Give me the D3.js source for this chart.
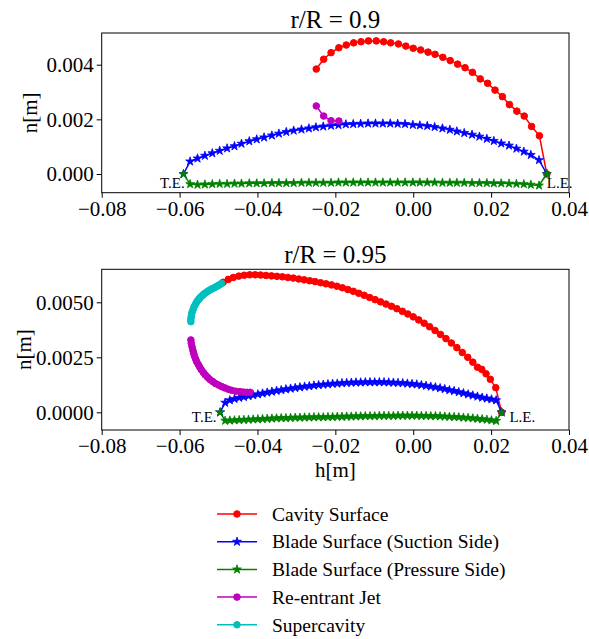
<!DOCTYPE html>
<html>
<head>
<meta charset="utf-8">
<script src="https://cdn.jsdelivr.net/npm/d3@7"></script>
<style>
  body { margin: 0; background: #fff; }
  text { font-family: "Liberation Serif", "Times New Roman", serif; fill: #000; }
</style>
</head>
<body>
<div id="container"></div>
<script>
/* CONSTANTS AND GLOBALS */
const width = 589;
const height = 639;
const left = 101.7;
const right = 569;

const xTicks = [-0.08, -0.06, -0.04, -0.02, 0, 0.02, 0.04];
const yTicks09 = [0, 0.002, 0.004];
const yTicks95 = [0, 0.0025, 0.005];

// r/R = 0.9 -- blade (suction + pressure share the same h stations)
const bladeH09 = [-0.0590,-0.0573,-0.0554,-0.0535,-0.0516,-0.0497,-0.0478,-0.0459,-0.0441,-0.0421,-0.0402,-0.0383,-0.0363,-0.0345,-0.0326,-0.0307,-0.0287,-0.0268,-0.0250,-0.0231,-0.0211,-0.0192,-0.0173,-0.0154,-0.0135,-0.0116,-0.0097,-0.0078,-0.0059,-0.0040,-0.0021,-0.0001,0.0017,0.0036,0.0055,0.0075,0.0094,0.0112,0.0131,0.0151,0.0170,0.0189,0.0207,0.0226,0.0246,0.0265,0.0284,0.0302,0.0323,0.0343];
const suction09 = [0,0.00046,0.00057,0.00067,0.00076,0.00085,0.00094,0.00102,0.00111,0.00120,0.00127,0.00134,0.00141,0.00148,0.00154,0.00159,0.00163,0.00167,0.00171,0.00174,0.00177,0.00179,0.00182,0.00183,0.00184,0.00185,0.00185,0.00185,0.00185,0.00184,0.00183,0.00180,0.00178,0.00176,0.00172,0.00167,0.00162,0.00156,0.00150,0.00144,0.00137,0.00129,0.00121,0.00112,0.00104,0.00093,0.00082,0.00070,0.00051,0];
const pressure09 = [0,-0.00037,-0.00039,-0.00038,-0.00037,-0.00036,-0.00036,-0.00035,-0.00035,-0.00034,-0.00034,-0.00034,-0.00033,-0.00033,-0.00033,-0.00033,-0.00032,-0.00032,-0.00032,-0.00032,-0.00032,-0.00031,-0.00031,-0.00031,-0.00031,-0.00031,-0.00031,-0.00031,-0.00031,-0.00031,-0.00031,-0.00031,-0.00031,-0.00031,-0.00031,-0.00032,-0.00032,-0.00032,-0.00032,-0.00033,-0.00033,-0.00033,-0.00034,-0.00034,-0.00035,-0.00036,-0.00037,-0.00039,-0.00042,0];
const cavityH09 = [-0.0249,-0.0230,-0.0211,-0.0191,-0.0172,-0.0153,-0.0134,-0.0115,-0.0095,-0.0076,-0.0058,-0.0038,-0.0019,0.0000,0.0019,0.0038,0.0056,0.0076,0.0095,0.0114,0.0133,0.0152,0.0172,0.0191,0.0210,0.0229,0.0247,0.0266,0.0285,0.0304,0.0324,0.0343];
const cavityN09 = [0.00384,0.00420,0.00444,0.00462,0.00472,0.00480,0.00484,0.00487,0.00487,0.00484,0.00480,0.00476,0.00468,0.00460,0.00454,0.00446,0.00438,0.00427,0.00415,0.00402,0.00389,0.00372,0.00348,0.00332,0.00307,0.00283,0.00254,0.00230,0.00212,0.00174,0.00140,0];
const jetH09 = [-0.0249,-0.0230,-0.0211,-0.0191];
const jetN09 = [0.00249,0.00212,0.00195,0.00194];

// r/R = 0.95
const bladeH95 = [-0.0496,-0.0483,-0.0471,-0.0459,-0.0447,-0.0435,-0.0423,-0.0411,-0.0399,-0.0387,-0.0375,-0.0363,-0.0351,-0.0339,-0.0327,-0.0315,-0.0303,-0.0291,-0.0279,-0.0267,-0.0255,-0.0243,-0.0231,-0.0219,-0.0207,-0.0195,-0.0183,-0.0171,-0.0159,-0.0147,-0.0135,-0.0123,-0.0111,-0.0099,-0.0087,-0.0075,-0.0063,-0.0051,-0.0039,-0.0027,-0.0015,-0.0003,0.0009,0.0021,0.0033,0.0045,0.0057,0.0069,0.0081,0.0093,0.0105,0.0117,0.0129,0.0141,0.0153,0.0165,0.0177,0.0189,0.0201,0.0213,0.0227];
const suction95 = [0,0.00044,0.00055,0.00061,0.00066,0.00070,0.00074,0.00078,0.00082,0.00086,0.00090,0.00094,0.00098,0.00101,0.00105,0.00108,0.00111,0.00114,0.00117,0.00119,0.00122,0.00124,0.00126,0.00128,0.00130,0.00131,0.00133,0.00134,0.00135,0.00136,0.00136,0.00137,0.00137,0.00137,0.00137,0.00137,0.00136,0.00135,0.00134,0.00133,0.00131,0.00129,0.00127,0.00124,0.00121,0.00117,0.00114,0.00110,0.00106,0.00101,0.00097,0.00092,0.00087,0.00082,0.00077,0.00072,0.00067,0.00063,0.00059,0.00055,0];
const pressure95 = [0,-0.00038,-0.00037,-0.00036,-0.00035,-0.00034,-0.00033,-0.00032,-0.00031,-0.00030,-0.00029,-0.00028,-0.00027,-0.00026,-0.00026,-0.00025,-0.00024,-0.00024,-0.00023,-0.00023,-0.00022,-0.00022,-0.00022,-0.00021,-0.00021,-0.00020,-0.00020,-0.00019,-0.00019,-0.00018,-0.00018,-0.00017,-0.00017,-0.00017,-0.00016,-0.00016,-0.00016,-0.00016,-0.00015,-0.00015,-0.00015,-0.00015,-0.00015,-0.00016,-0.00016,-0.00017,-0.00017,-0.00018,-0.00019,-0.00020,-0.00021,-0.00022,-0.00024,-0.00025,-0.00027,-0.00029,-0.00031,-0.00033,-0.00036,-0.00039,0];
const cavityH95 = [-0.0488,-0.0475,-0.0462,-0.0448,-0.0434,-0.0420,-0.0406,-0.0392,-0.0378,-0.0364,-0.0350,-0.0336,-0.0322,-0.0308,-0.0294,-0.0280,-0.0266,-0.0252,-0.0238,-0.0224,-0.0210,-0.0196,-0.0182,-0.0168,-0.0154,-0.0140,-0.0126,-0.0112,-0.0098,-0.0084,-0.0070,-0.0056,-0.0042,-0.0028,-0.0014,0.0000,0.0014,0.0028,0.0042,0.0056,0.0070,0.0084,0.0098,0.0112,0.0126,0.0140,0.0153,0.0165,0.0176,0.0187,0.0198,0.0212,0.0227];
const cavityN95 = [0.00591,0.00604,0.00613,0.00619,0.00623,0.00625,0.00625,0.00624,0.00622,0.00620,0.00618,0.00616,0.00613,0.00610,0.00606,0.00602,0.00598,0.00594,0.00589,0.00584,0.00579,0.00573,0.00566,0.00558,0.00550,0.00541,0.00532,0.00522,0.00512,0.00502,0.00492,0.00482,0.00471,0.00459,0.00447,0.00434,0.00420,0.00405,0.00389,0.00372,0.00354,0.00335,0.00315,0.00294,0.00272,0.00250,0.00228,0.00205,0.00195,0.00175,0.00150,0.00112,0];
const jetH95 = [-0.0571,-0.0570,-0.0568,-0.0566,-0.0564,-0.0562,-0.0559,-0.0556,-0.0552,-0.0548,-0.0544,-0.0539,-0.0534,-0.0528,-0.0522,-0.0515,-0.0508,-0.0500,-0.0492,-0.0484,-0.0475,-0.0466,-0.0456,-0.0445,-0.0436,-0.0427,-0.0419];
const jetN95 = [0.00329,0.00314,0.00298,0.00283,0.00270,0.00257,0.00243,0.00230,0.00217,0.00205,0.00193,0.00181,0.00170,0.00159,0.00149,0.00140,0.00131,0.00124,0.00117,0.00111,0.00105,0.00100,0.00096,0.00094,0.00092,0.00091,0.00091];
const superH95 = [-0.0571,-0.0571,-0.0570,-0.0569,-0.0567,-0.0565,-0.0563,-0.0560,-0.0557,-0.0554,-0.0550,-0.0547,-0.0543,-0.0539,-0.0535,-0.0530,-0.0526,-0.0521,-0.0517,-0.0512,-0.0508,-0.0504,-0.0500,-0.0496,-0.0492];
const superN95 = [0.00412,0.00424,0.00436,0.00448,0.00459,0.00469,0.00479,0.00489,0.00498,0.00507,0.00515,0.00522,0.00529,0.00535,0.00541,0.00547,0.00552,0.00557,0.00561,0.00565,0.00569,0.00573,0.00577,0.00581,0.00586];

const seriesNames = ["Cavity Surface", "Blade Surface (Suction Side)", "Blade Surface (Pressure Side)", "Re-entrant Jet", "Supercavity"];
const seriesColors = ["#ff0000", "#0000ff", "#008000", "#bf00bf", "#00bfbf"];
const seriesMarkers = ["circle", "star", "star", "circle", "circle"];

const zip = (h, n) => h.map((d, i) => [d, n[i]]);

const svg = d3.select("#container")
  .append("svg")
  .attr("width", width)
  .attr("height", height)
  .style("background-color", "white");

function marker(g, kind, color) {
  if (kind === "circle") {
    g.append("circle").attr("r", 3.3).attr("fill", color).attr("stroke", color).attr("stroke-width", 1);
  } else {
    g.append("path").attr("d", d3.symbol(d3.symbolStar, 24)()).attr("fill", color).attr("stroke", color).attr("stroke-width", 0.8);
  }
}

function drawPanel(cfg) {
  const xScale = d3.scaleLinear().domain([-0.08, 0.04]).range([left, right]);
  const yScale = d3.scaleLinear().domain(cfg.yDomain).range([cfg.bottom, cfg.top]);
  const g = svg.append("g");

  const line = d3.line().x(d => xScale(d[0])).y(d => yScale(d[1]));

  cfg.series.forEach((pts, i) => {
    if (!pts) return;
    g.append("path")
      .datum(pts)
      .attr("d", line)
      .attr("fill", "none")
      .attr("stroke", seriesColors[i])
      .attr("stroke-width", 1.5);
    g.selectAll(null)
      .data(pts)
      .join("g")
      .attr("transform", d => `translate(${xScale(d[0])},${yScale(d[1])})`)
      .each(function () { marker(d3.select(this), seriesMarkers[i], seriesColors[i]); });
  });

  // frame
  g.append("rect")
    .attr("x", left).attr("y", cfg.top)
    .attr("width", right - left).attr("height", cfg.bottom - cfg.top)
    .attr("fill", "none").attr("stroke", "black").attr("stroke-width", 1);

  // AXES
  const xAxis = g.append("g")
    .attr("transform", `translate(0,${cfg.bottom})`)
    .call(d3.axisBottom(xScale).tickValues(xTicks).tickFormat(d3.format(".2f")).tickSize(5).tickSizeOuter(0).tickPadding(3));
  const yAxis = g.append("g")
    .attr("transform", `translate(${left},0)`)
    .call(d3.axisLeft(yScale).tickValues(cfg.yTicks).tickFormat(d3.format(cfg.yFmt)).tickSize(5).tickSizeOuter(0).tickPadding(3));
  [xAxis, yAxis].forEach(a => {
    a.select(".domain").remove();
    a.selectAll("text").style("font-family", '"Liberation Serif", serif').style("font-size", "21px").attr("fill", "black");
  });

  // TITLE & LABELS
  g.append("text")
    .attr("x", (left + right) / 2).attr("y", cfg.titleY)
    .attr("text-anchor", "middle").style("font-size", "25px")
    .text(cfg.title);

  g.append("text")
    .attr("transform", `translate(${cfg.ylabelX},${(cfg.top + cfg.bottom) / 2}) rotate(-90)`)
    .attr("text-anchor", "middle").style("font-size", "21px")
    .text("n[m]");

  g.append("text")
    .attr("x", xScale(cfg.te[0])).attr("y", yScale(0) + cfg.labelDy)
    .attr("text-anchor", "end").style("font-size", "15px")
    .text("T.E.");
  g.append("text")
    .attr("x", xScale(cfg.le[0])).attr("y", yScale(0) + cfg.labelDy)
    .attr("text-anchor", "start").style("font-size", "15px")
    .text("L.E.");

  return xScale;
}

drawPanel({
  top: 33, bottom: 192.7, yDomain: [-0.000684, 0.00516],
  yTicks: yTicks09, yFmt: ".3f", title: "r/R = 0.9", titleY: 27.5, ylabelX: 37,
  te: [-0.0587], le: [0.0343], labelDy: 14,
  series: [zip(cavityH09, cavityN09), zip(bladeH09, suction09), zip(bladeH09, pressure09), zip(jetH09, jetN09), null]
});

drawPanel({
  top: 269.3, bottom: 430, yDomain: [-0.000803, 0.0065],
  yTicks: yTicks95, yFmt: ".4f", title: "r/R = 0.95", titleY: 262.5, ylabelX: 31,
  te: [-0.0505], le: [0.0247], labelDy: 10,
  series: [zip(cavityH95, cavityN95), zip(bladeH95, suction95), zip(bladeH95, pressure95), zip(jetH95, jetN95), zip(superH95, superN95)]
});

svg.append("text")
  .attr("x", (left + right) / 2).attr("y", 476.5)
  .attr("text-anchor", "middle").style("font-size", "21px")
  .text("h[m]");

// LEGEND
const legend = svg.append("g");
seriesNames.forEach((name, i) => {
  const y = 514 + i * 27.7;
  legend.append("line")
    .attr("x1", 217).attr("x2", 257).attr("y1", y).attr("y2", y)
    .attr("stroke", seriesColors[i]).attr("stroke-width", 1.5);
  const m = legend.append("g").attr("transform", `translate(237,${y})`);
  marker(m, seriesMarkers[i], seriesColors[i]);
  legend.append("text")
    .attr("x", 272).attr("y", y + 6.7)
    .style("font-size", "19.5px")
    .text(name);
});
</script>
</body>
</html>
